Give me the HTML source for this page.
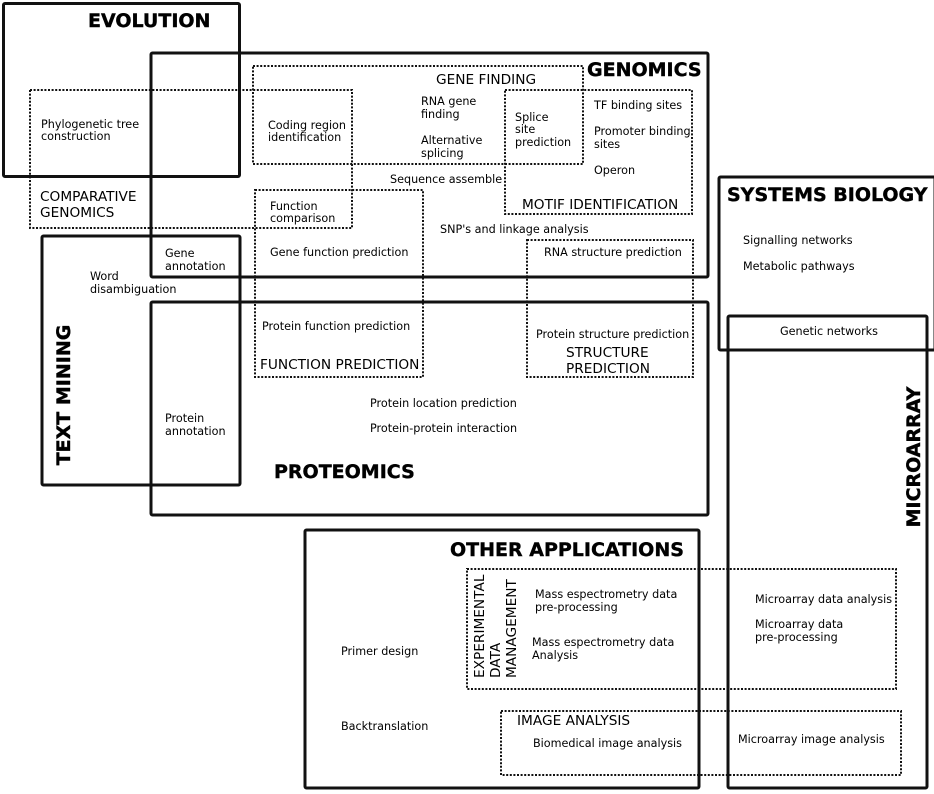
<!DOCTYPE html>
<html><head><style>body{margin:0;background:#fff}svg{display:block}</style></head><body>
<svg width="934" height="794" xmlns="http://www.w3.org/2000/svg" font-family="DejaVu Sans, Liberation Sans, sans-serif" fill="#000">
<g fill="none" stroke="#111" stroke-width="3" stroke-linejoin="round">
<rect x="3.5" y="3.5" width="236" height="173" rx="1.5"/>
<rect x="151" y="53" width="557" height="224" rx="1.5"/>
<rect x="42" y="236" width="198" height="249" rx="1.5"/>
<rect x="151" y="302" width="557" height="213" rx="1.5"/>
<rect x="719" y="177" width="216" height="173" rx="1.5"/>
<rect x="728" y="316" width="199" height="472" rx="1.5"/>
<rect x="305" y="530" width="394" height="258" rx="1.5"/>
</g>
<g fill="none" stroke="#111" stroke-width="2" stroke-dasharray="2 1.6">
<rect x="30" y="90" width="322" height="138"/>
<rect x="253" y="66" width="330" height="98"/>
<rect x="505" y="90" width="187" height="124"/>
<rect x="255" y="190" width="168" height="187"/>
<rect x="527" y="240" width="166" height="137"/>
<rect x="467" y="569" width="429" height="120"/>
<rect x="501" y="711" width="400" height="64"/>
</g>
<g font-weight="bold" font-size="19" stroke="#000" stroke-width="0.4">
<text x="88" y="27">EVOLUTION</text>
<text x="587" y="76">GENOMICS</text>
<text x="727" y="201">SYSTEMS BIOLOGY</text>
<text x="274" y="478">PROTEOMICS</text>
<text x="450" y="556">OTHER APPLICATIONS</text>
<text transform="translate(70,395) rotate(-90)" text-anchor="middle">TEXT MINING</text>
<text transform="translate(920,457) rotate(-90)" text-anchor="middle">MICROARRAY</text>
</g>
<g font-size="13.7">
<text x="40" y="201">COMPARATIVE</text>
<text x="40" y="217">GENOMICS</text>
<text x="436" y="84">GENE FINDING</text>
<text x="522" y="209">MOTIF IDENTIFICATION</text>
<text x="260" y="369">FUNCTION PREDICTION</text>
<text x="566" y="357">STRUCTURE</text>
<text x="566" y="373">PREDICTION</text>
<text x="517" y="725">IMAGE ANALYSIS</text>
<text transform="translate(484,678) rotate(-90)">EXPERIMENTAL</text>
<text transform="translate(500,678) rotate(-90)">DATA</text>
<text transform="translate(516,678) rotate(-90)">MANAGEMENT</text>
</g>
<g font-size="11.2">
<text x="41" y="128">Phylogenetic tree</text>
<text x="41" y="140">construction</text>
<text x="268" y="129">Coding region</text>
<text x="268" y="141">identification</text>
<text x="421" y="105">RNA gene</text>
<text x="421" y="118">finding</text>
<text x="421" y="144">Alternative</text>
<text x="421" y="157">splicing</text>
<text x="515" y="121">Splice</text>
<text x="515" y="133">site</text>
<text x="515" y="146">prediction</text>
<text x="594" y="109">TF binding sites</text>
<text x="594" y="135">Promoter binding</text>
<text x="594" y="148">sites</text>
<text x="594" y="174">Operon</text>
<text x="390" y="183">Sequence assemble</text>
<text x="270" y="210">Function</text>
<text x="270" y="222">comparison</text>
<text x="440" y="233">SNP's and linkage analysis</text>
<text x="165" y="257">Gene</text>
<text x="165" y="270">annotation</text>
<text x="270" y="256">Gene function prediction</text>
<text x="544" y="256">RNA structure prediction</text>
<text x="90" y="280">Word</text>
<text x="90" y="293">disambiguation</text>
<text x="262" y="330">Protein function prediction</text>
<text x="536" y="338">Protein structure prediction</text>
<text x="370" y="407">Protein location prediction</text>
<text x="370" y="432">Protein-protein interaction</text>
<text x="165" y="422">Protein</text>
<text x="165" y="435">annotation</text>
<text x="743" y="244">Signalling networks</text>
<text x="743" y="270">Metabolic pathways</text>
<text x="780" y="335">Genetic networks</text>
<text x="535" y="598">Mass espectrometry data</text>
<text x="535" y="611">pre-processing</text>
<text x="532" y="646">Mass espectrometry data</text>
<text x="532" y="659">Analysis</text>
<text x="341" y="655">Primer design</text>
<text x="341" y="730">Backtranslation</text>
<text x="533" y="747">Biomedical image analysis</text>
<text x="755" y="603">Microarray data analysis</text>
<text x="755" y="628">Microarray data</text>
<text x="755" y="641">pre-processing</text>
<text x="738" y="743">Microarray image analysis</text>
</g>
</svg>
</body></html>
